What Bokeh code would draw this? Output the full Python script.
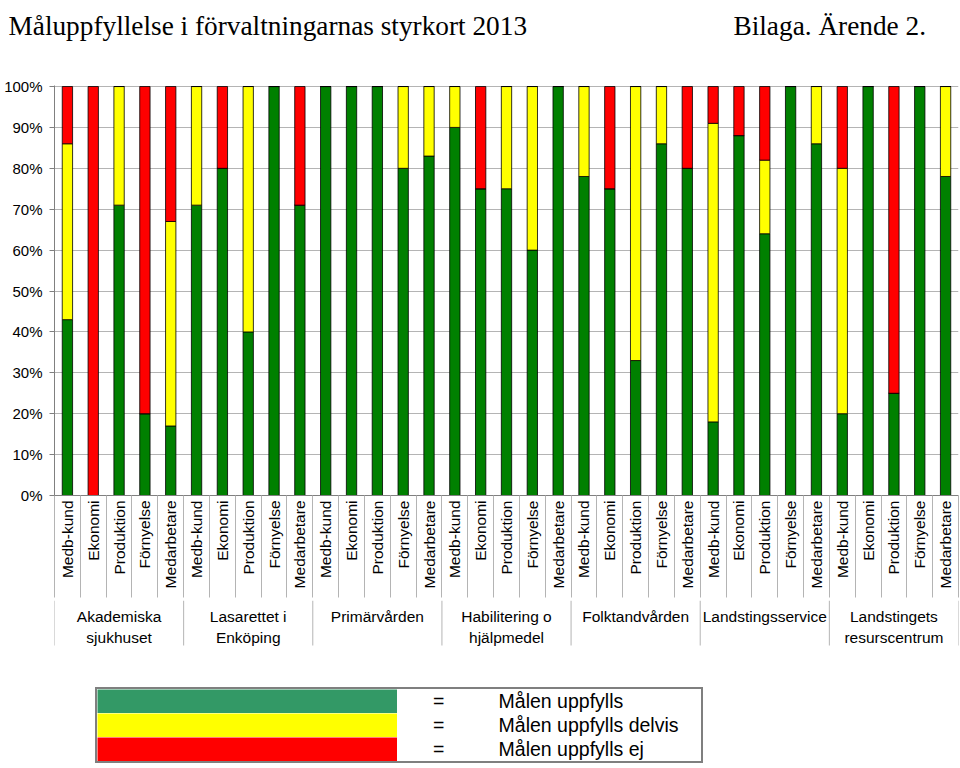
import math
from bokeh.plotting import figure
from bokeh.models import (Range1d, FixedTicker, PrintfTickFormatter, Legend,
                          LegendItem, ColumnDataSource)
from bokeh.layouts import column
from bokeh.embed import file_html
from bokeh.resources import INLINE
from bokeh.core.properties import value

# ---------------- data ----------------
title_text = "Måluppfyllelse i förvaltningarnas styrkort 2013"
subtitle_text = "Bilaga. Ärende 2."
groups = ["Akademiska\nsjukhuset", "Lasarettet i\nEnköping", "Primärvården",
          "Habilitering o\nhjälpmedel", "Folktandvården", "Landstingsservice",
          "Landstingets\nresurscentrum"]
categories = ["Medb-kund", "Ekonomi", "Produktion", "Förnyelse", "Medarbetare"]
green = [43, 0, 71, 20, 17,
         71, 80, 40, 100, 71,
         100, 100, 100, 80, 83,
         90, 75, 75, 60, 100,
         78, 75, 33, 86, 80,
         18, 88, 64, 100, 86,
         20, 100, 25, 100, 78]
yellow = [43, 0, 29, 0, 50,
          29, 0, 60, 0, 0,
          0, 0, 0, 20, 17,
          10, 0, 25, 40, 0,
          22, 0, 67, 14, 0,
          73, 0, 18, 0, 14,
          60, 0, 0, 0, 22]
red = [14, 100, 0, 80, 33,
       0, 20, 0, 0, 29,
       0, 0, 0, 0, 0,
       0, 25, 0, 0, 0,
       0, 25, 0, 0, 20,
       9, 12, 18, 0, 0,
       20, 0, 75, 0, 0]
y_ticks = list(range(0, 101, 10))
legend_labels = ["Målen uppfylls", "Målen uppfylls delvis", "Målen uppfylls ej"]

bar_colors = ["#008000", "#FFFF00", "#FF0000"]
legend_colors = ["#339966", "#FFFF00", "#FF0000"]
SANS = "Liberation Sans"
SERIF = "Liberation Serif"
W = 960
LEFT = 54
RIGHT = 2
HDR = 48
TOP = 85 - HDR
FRAME_H = 410
BOTTOM = 105

n_cat = len(categories)
labels = [c for _ in groups for c in categories]
xs = list(range(len(labels)))

# ---------------- header ----------------
hdr = figure(width=W, height=HDR, x_range=Range1d(0, W), y_range=Range1d(HDR, 0),
             output_backend="svg", toolbar_location=None,
             x_axis_location=None, y_axis_location=None,
             min_border=0, min_border_left=0, min_border_right=0,
             min_border_top=0, min_border_bottom=0, outline_line_color=None)
hdr.grid.visible = False
hdr.text(x=[8, 733], y=[25, 25], text=[title_text, subtitle_text],
         text_font=value(SERIF), text_font_size="27.3px", text_color="black",
         text_baseline="alphabetic", text_align="left")

# ---------------- main chart ----------------
p = figure(width=W, height=TOP + FRAME_H + BOTTOM,
           x_range=Range1d(-0.5, len(labels) - 0.5),
           y_range=Range1d(0, 100.25), output_backend="svg",
           toolbar_location=None, min_border_top=TOP, min_border_left=LEFT,
           min_border_right=RIGHT, min_border_bottom=BOTTOM,
           outline_line_color=None)
p.background_fill_color = "white"
p.border_fill_color = "white"

src = ColumnDataSource(dict(x=xs, green=green, yellow=yellow, red=red))
p.vbar_stack(["green", "yellow", "red"], x="x", width=0.4, source=src,
             fill_color=bar_colors, line_color="black", line_width=0.8)

p.xgrid.visible = False
p.ygrid.ticker = FixedTicker(ticks=y_ticks)
p.ygrid.grid_line_color = "#b4b4b4"
p.ygrid.grid_line_width = 1

ya = p.yaxis[0]
ya.ticker = FixedTicker(ticks=y_ticks)
ya.formatter = PrintfTickFormatter(format="%d%%")
ya.axis_line_color = "#808080"
ya.major_tick_line_color = "#808080"
ya.major_tick_out = 5
ya.major_tick_in = 0
ya.minor_tick_line_color = None
ya.major_label_standoff = 7
ya.major_label_text_font = SANS
ya.major_label_text_font_size = "15px"
ya.major_label_text_color = "black"

xa = p.xaxis[0]
xa.ticker = FixedTicker(ticks=xs, minor_ticks=[i - 0.5 for i in range(len(labels) + 1)])
xa.major_label_overrides = {i: lab for i, lab in enumerate(labels)}
xa.major_label_orientation = math.pi / 2
xa.major_label_text_font = SANS
xa.major_label_text_font_size = "15.5px"
xa.major_label_text_color = "black"
xa.axis_line_color = "#808080"
xa.major_tick_line_color = None
xa.major_tick_out = 0
xa.major_tick_in = 0
xa.minor_tick_line_color = "#b4b4b4"
xa.minor_tick_out = 102
xa.minor_tick_in = 0
xa.major_label_standoff = -97

# ---------------- group labels + legend ----------------
H2 = 166
q = figure(width=W, height=H2, x_range=p.x_range, y_range=Range1d(H2, 0),
           output_backend="svg", toolbar_location=None,
           x_axis_location=None, y_axis_location=None,
           min_border_left=LEFT, min_border_right=RIGHT, min_border_top=0,
           min_border_bottom=0, outline_line_color=None)
q.grid.visible = False

sep_x = [i * n_cat - 0.5 for i in range(len(groups) + 1)]
q.segment(x0=sep_x, x1=sep_x, y0=[0] * len(sep_x), y1=[45] * len(sep_x),
          line_color="#b4b4b4", line_width=1)
centers = [i * n_cat + (n_cat - 1) / 2 for i in range(len(groups))]
q.text(x=centers, y=[7] * len(groups), text=groups, text_font=value(SANS),
       text_font_size="15.5px", text_color="black", text_align="center",
       text_baseline="top", text_line_height=1.25)

items = []
for lab, col in zip(legend_labels, legend_colors):
    r = q.line(x=[float("nan")], y=[float("nan")], line_color=col, line_width=24)
    items.append(LegendItem(label="=" + "\u00a0" * 10 + lab, renderers=[r]))
leg = Legend(items=items, location=(41, 3), glyph_width=300, glyph_height=24,
             label_height=24, label_width=268, label_standoff=36, spacing=0,
             padding=0, margin=0, border_line_color="black",
             border_line_width=2, background_fill_color="white",
             background_fill_alpha=1.0, label_text_font=SANS,
             label_text_font_size="19.5px", label_text_color="black")
q.add_layout(leg)

layout = column(hdr, column(p, q, spacing=0), spacing=0)
open("out.html", "w").write(file_html(layout, INLINE))
